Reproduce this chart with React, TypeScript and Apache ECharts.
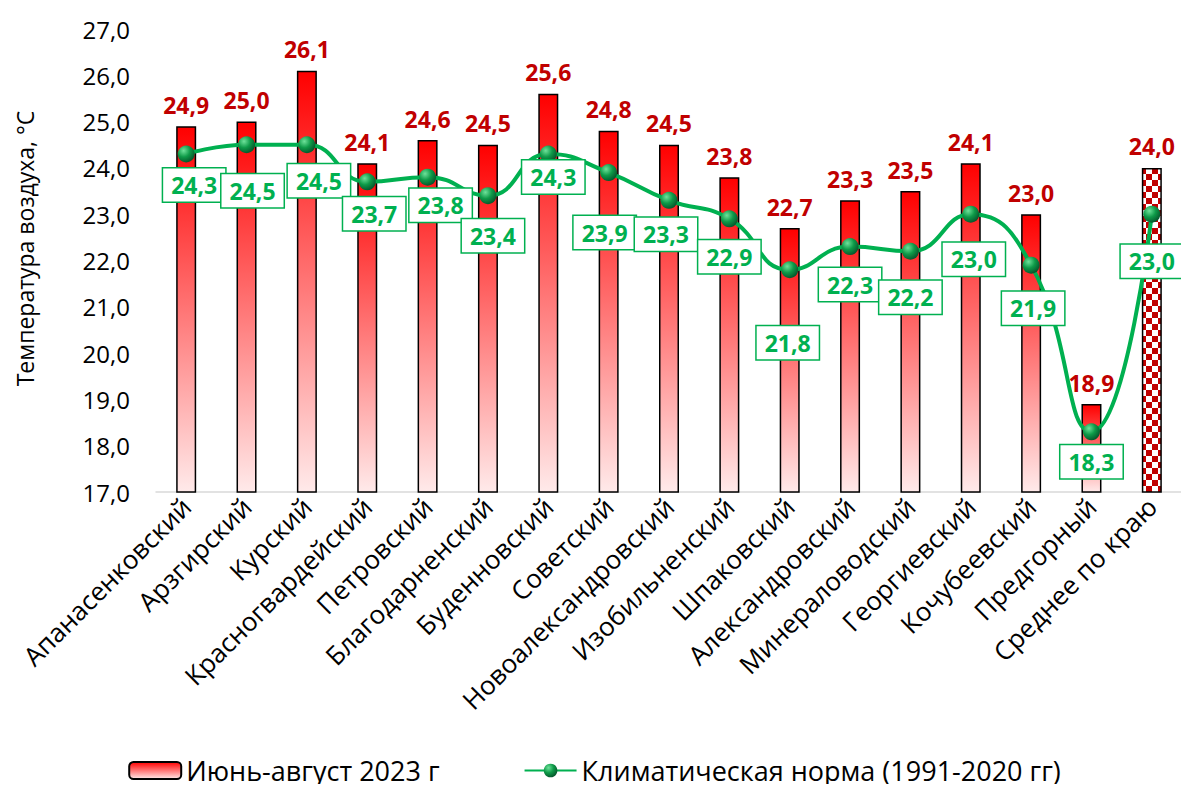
import React, { useEffect, useRef } from "react";
import * as echarts from "echarts";

const categories = [
  "Апанасенковский", "Арзгирский", "Курский", "Красногвардейский", "Петровский",
  "Благодарненский", "Буденновский", "Советский", "Новоалександровский", "Изобильненский",
  "Шпаковский", "Александровский", "Минераловодский", "Георгиевский", "Кочубеевский",
  "Предгорный", "Среднее по краю",
];
const summer2023 = [24.9, 25.0, 26.1, 24.1, 24.6, 24.5, 25.6, 24.8, 24.5, 23.8, 22.7, 23.3, 23.5, 24.1, 23.0, 18.9, 24.0];
const climateNorm = [24.3, 24.5, 24.5, 23.7, 23.8, 23.4, 24.3, 23.9, 23.3, 22.9, 21.8, 22.3, 22.2, 23.0, 21.9, 18.3, 23.0];
const normLabelOffsets = [
  [8, 31], [6, 46], [12, 36], [7, 32], [13, 28], [5, 40], [5, 23], [-4, 60], [-3, 34],
  [0, 38], [-2, 73], [0, 38], [0, 46], [3, 45], [2, 43], [0, 30], [0, 47],
];
const seriesNames = ["Июнь-август 2023 г", "Климатическая норма (1991-2020 гг)"];
const yTitle = "Температура воздуха, °C";

const FONT = "'Open Sans', 'Noto Sans', sans-serif";
const fmt = (v: number) => v.toFixed(1).replace(".", ",");

export default function App() {
  const ref = useRef<HTMLDivElement>(null);
  useEffect(() => {
    if (!ref.current) return;
    const chart = echarts.init(ref.current, null, { renderer: "svg" });

    const cv = document.createElement("canvas");
    cv.width = 12;
    cv.height = 12;
    const ctx = cv.getContext("2d")!;
    ctx.fillStyle = "#ffffff";
    ctx.fillRect(0, 0, 12, 12);
    ctx.fillStyle = "#c00000";
    ctx.fillRect(0, 0, 6, 6);
    ctx.fillRect(6, 6, 6, 6);

    const barGradient = new echarts.graphic.LinearGradient(0, 0, 0, 1, [
      { offset: 0, color: "#ff0000" },
      { offset: 1, color: "#ffeaea" },
    ]);

    const barData = summer2023.map((v, i) =>
      i === summer2023.length - 1
        ? { value: v, itemStyle: { color: { image: cv, repeat: "repeat" } as any } }
        : { value: v }
    );
    const lineData = climateNorm.map((v, i) => ({
      value: v,
      label: { offset: normLabelOffsets[i] },
    }));

    chart.setOption({
      animation: false,
      textStyle: { fontFamily: FONT },
      grid: { left: 156, right: 7, top: 29, bottom: 300 },
      legend: {
        bottom: 3,
        left: "center",
        itemWidth: 52,
        itemHeight: 17,
        itemGap: 84,
        textStyle: { fontSize: 27, color: "#000", fontFamily: FONT },
        data: seriesNames,
      },
      xAxis: {
        type: "category",
        data: categories,
        axisLine: { show: true, lineStyle: { color: "#d9d9d9", width: 1.5 } },
        axisTick: { show: false },
        axisLabel: { rotate: 45, fontSize: 26, color: "#000", margin: 10, interval: 0, fontFamily: FONT },
      },
      yAxis: {
        type: "value",
        min: 17,
        max: 27,
        interval: 1,
        name: yTitle,
        nameLocation: "middle",
        nameGap: 120,
        nameTextStyle: { fontSize: 23, color: "#000", fontFamily: FONT, padding: [0, 0, 0, 24] },
        axisLine: { show: false },
        axisTick: { show: false },
        splitLine: { show: false },
        axisLabel: { fontSize: 24, color: "#000", margin: 26, formatter: (v: number) => fmt(v), fontFamily: FONT },
      },
      series: [
        {
          name: seriesNames[0],
          type: "bar",
          data: barData,
          barWidth: 20,
          itemStyle: { color: barGradient, borderColor: "#000", borderWidth: 1.5 },
          label: {
            show: true,
            position: "top",
            distance: 10,
            color: "#c00000",
            fontWeight: "bold",
            fontSize: 23,
            fontFamily: FONT,
            formatter: (p: any) => fmt(p.value),
          },
          z: 2,
        },
        {
          name: seriesNames[1],
          type: "line",
          data: lineData,
          smooth: 0.5,
          lineStyle: { color: "#00b050", width: 4 },
          symbol: "circle",
          symbolSize: 17,
          itemStyle: {
            color: new echarts.graphic.RadialGradient(0.35, 0.3, 0.75, [
              { offset: 0, color: "#6ee29a" },
              { offset: 0.5, color: "#0e9a48" },
              { offset: 1, color: "#05522a" },
            ]),
            borderWidth: 0,
          },
          label: {
            show: true,
            position: "inside",
            color: "#00b050",
            fontWeight: "bold",
            fontSize: 23,
            fontFamily: FONT,
            backgroundColor: "#fff",
            borderColor: "#00b050",
            borderWidth: 1.5,
            padding: [6, 8, 4, 8],
            formatter: (p: any) => fmt(p.value),
          },
          z: 3,
        },
      ],
    });
    return () => chart.dispose();
  }, []);
  return <div ref={ref} style={{ width: 1189, height: 792, margin: -8 }} />;
}
